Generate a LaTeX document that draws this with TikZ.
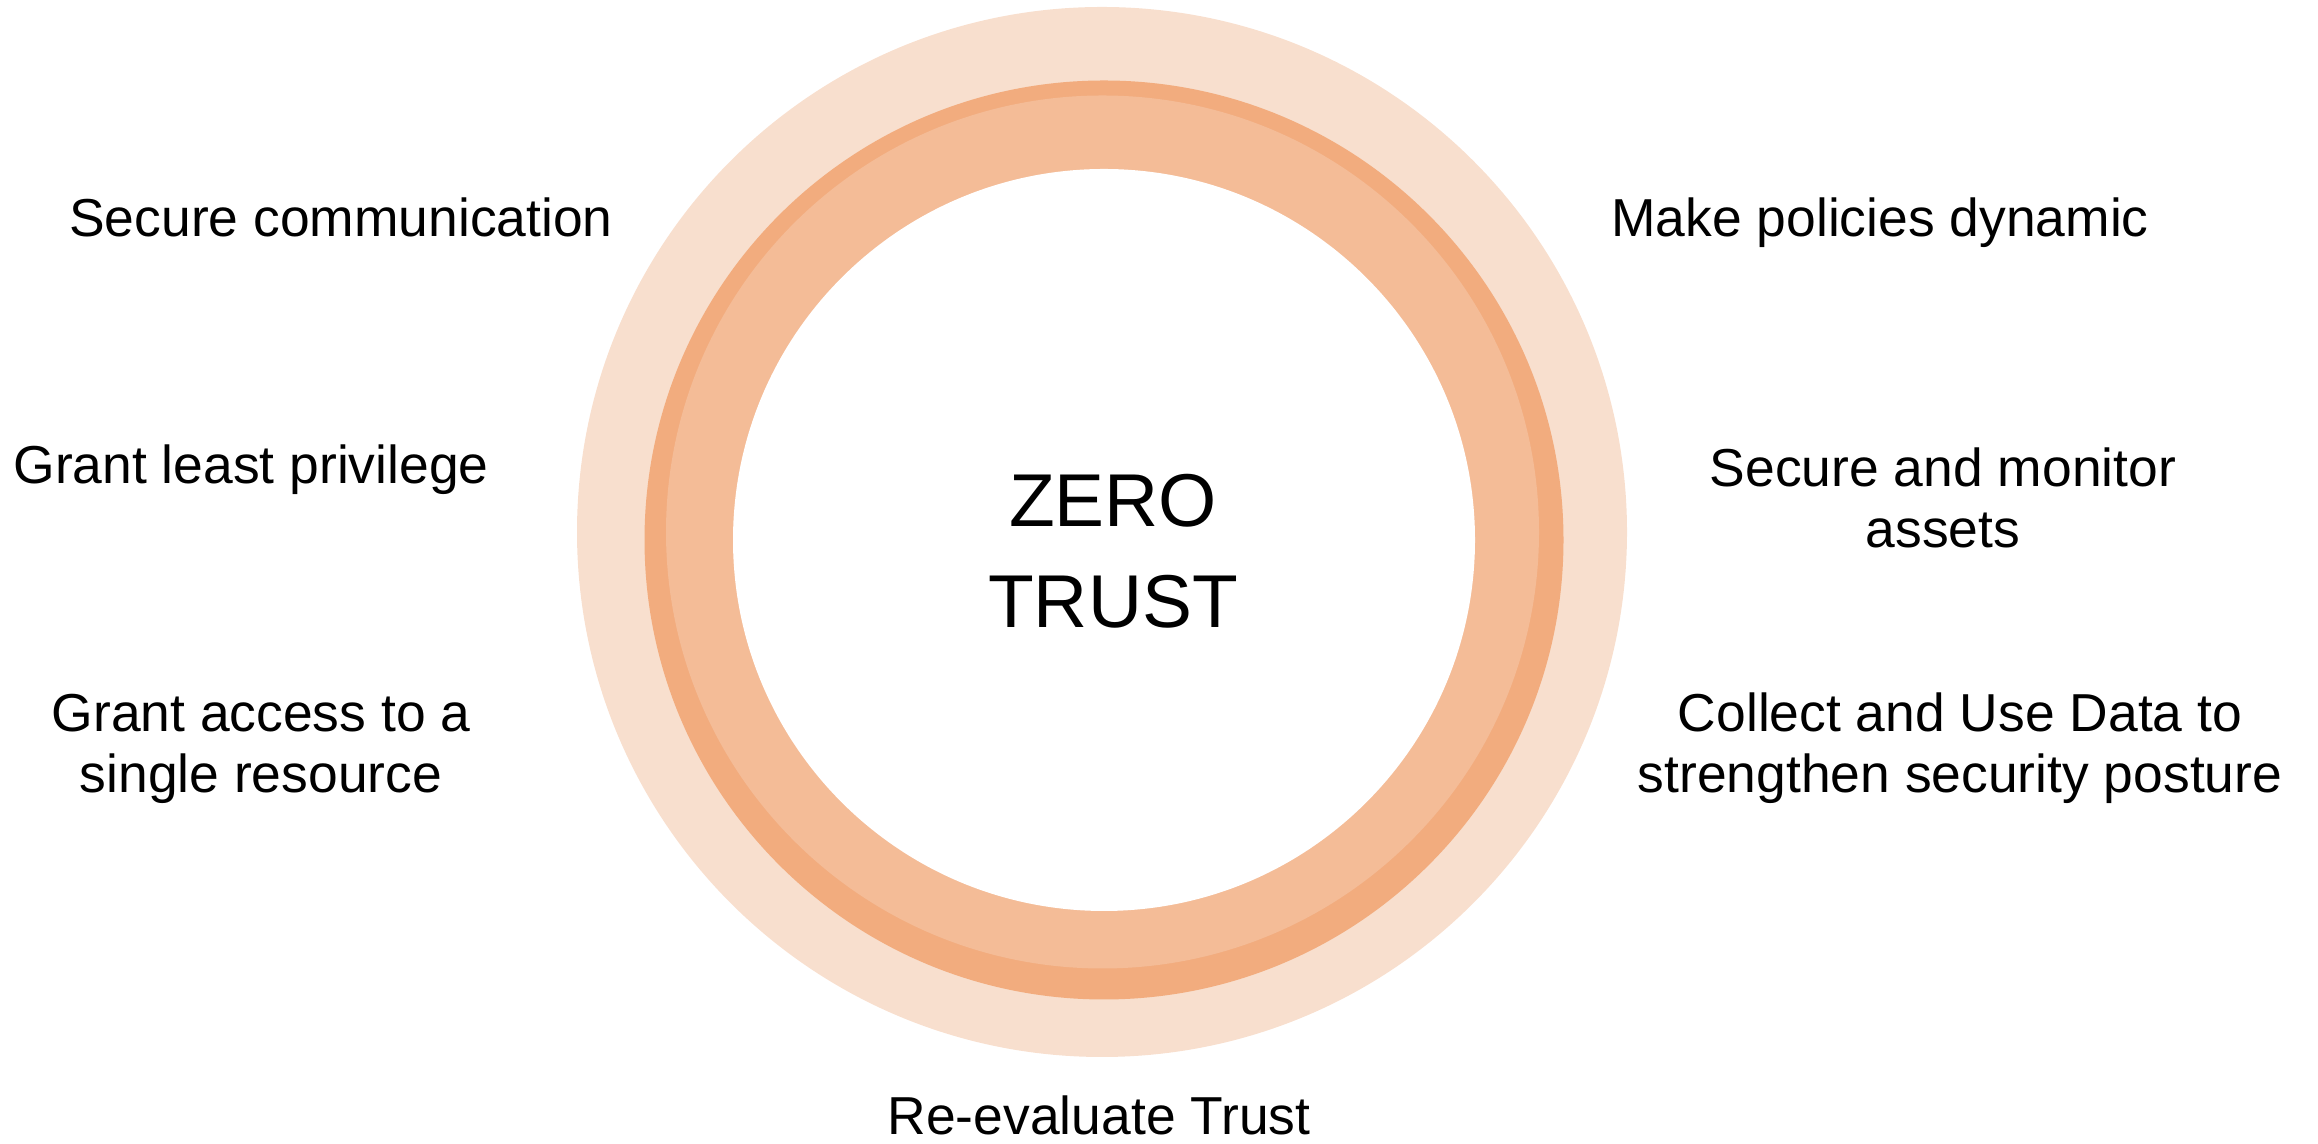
\documentclass[tikz,border=0pt]{standalone}
\usepackage{fontspec}
\setmainfont{Liberation Sans}
\definecolor{ringhell}{HTML}{F8DFCE}
\definecolor{ringdunkel}{HTML}{F2AC7E}
\definecolor{ringmitte}{HTML}{F4BC97}
\tikzset{
  punkt/.style={align=center, anchor=base, inner sep=0pt,
    font=\fontsize{15.2}{17.6}\selectfont},
  titel/.style={align=center, anchor=base, inner sep=0pt,
    font=\fontsize{21.3}{29}\selectfont}
}
\begin{document}
\begin{tikzpicture}
  \useasboundingbox (0,0) rectangle (23.18,11.44);

  % Ringe
  \coordinate (M) at (11.02,6.12);
  \coordinate (N) at (11.04,6.04);
  \fill[ringhell] (M) circle (5.25);
  \fill[ringdunkel] (N) circle (4.595);
  \fill[ringmitte] (11.025,6.12) circle (4.365);
  \fill[white] (N) circle (3.71);

  % Mitte
  \node[titel] (zt) at (11.13,5.16) {ZERO\\TRUST};

  % Links
  \node[punkt] (kom) at (3.41,9.07) {Secure communication};
  \node[punkt] (priv) at (2.51,6.60) {Grant least privilege};
  \node[punkt] (zug) at (2.61,3.51) {Grant access to a\\single resource};

  % Rechts
  \node[punkt] (pol) at (18.80,9.07) {Make policies dynamic};
  \node[punkt] (ass) at (19.43,5.96) {Secure and monitor\\assets};
  \node[punkt] (dat) at (19.60,3.51) {Collect and Use Data to\\strengthen security posture};

  % Unten
  \node[punkt] (rev) at (10.99,0.09) {Re-evaluate Trust};
\end{tikzpicture}
\end{document}
